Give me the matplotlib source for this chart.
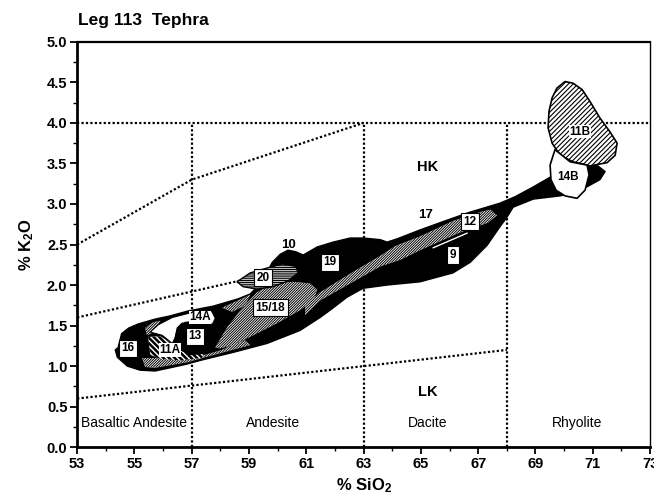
import matplotlib
matplotlib.use("Agg")
import matplotlib.pyplot as plt
from matplotlib.patches import Polygon
from matplotlib.ticker import MultipleLocator

plt.rcParams['font.family'] = ['Liberation Sans', 'DejaVu Sans']
plt.rcParams['mathtext.fontset'] = 'custom'
plt.rcParams['mathtext.rm'] = 'Liberation Sans:bold'
plt.rcParams['mathtext.bf'] = 'Liberation Sans:bold'
plt.rcParams['mathtext.it'] = 'Liberation Sans:bold'

# ---------------- data (SiO2 %, K2O %) ----------------
# classification boundaries
hk_line_x = [53, 57, 63]
hk_line_y = [2.5, 3.3, 4.0]
mk_line_x = [53, 63, 68]
mk_line_y = [1.6, 2.4, 2.8]
lk_line_x = [53, 68]
lk_line_y = [0.6, 1.2]
top_line_y = 4.0
rock_bounds = [57, 63, 68]

# outline of combined (black) field
env_x = [54.43, 54.55, 54.80, 55.13, 55.72, 56.25, 56.87, 57.75, 58.62, 59.04,
         59.46, 59.81, 60.09, 60.36, 60.64, 60.89, 61.38, 61.94, 62.53, 62.98,
         63.58, 63.82, 64.17, 64.97, 65.91, 66.72, 67.76, 68.29, 68.92, 69.51,
         70.38, 70.84, 71.18, 71.43, 71.25, 70.84, 70.40, 69.86, 68.92, 68.22,
         68.01, 67.76, 67.31, 66.72, 66.12, 64.97, 63.82, 62.98, 62.42, 61.83,
         61.48, 60.78, 59.63, 58.45, 57.29, 56.77, 56.25, 55.72, 55.20, 54.75,
         54.40, 54.33]
env_y = [1.23, 1.40, 1.47, 1.52, 1.58, 1.62, 1.68, 1.74, 1.83, 1.89,
         2.04, 2.28, 2.38, 2.43, 2.41, 2.37, 2.47, 2.53, 2.58, 2.58,
         2.56, 2.53, 2.57, 2.68, 2.80, 2.90, 3.01, 3.09, 3.21, 3.33,
         3.48, 3.48, 3.47, 3.40, 3.30, 3.22, 3.14, 3.10, 3.06, 2.96,
         2.84, 2.72, 2.49, 2.28, 2.15, 2.04, 2.00, 1.96, 1.85, 1.69,
         1.60, 1.44, 1.28, 1.17, 1.07, 1.02, 0.98, 0.94, 0.95, 1.00,
         1.11, 1.20]

# 15/18 field
f1518_x = [57.82, 58.24, 58.79, 59.28, 59.84, 60.54, 61.13, 61.38, 61.24, 60.78,
           59.98, 59.14, 58.45, 57.99]
f1518_y = [1.23, 1.48, 1.73, 1.91, 2.02, 2.04, 2.02, 1.94, 1.81, 1.69,
           1.53, 1.38, 1.26, 1.22]

# 12 field (hatched band)
f12_x = [60.96, 61.48, 62.53, 63.58, 64.27, 64.97, 66.37, 67.35, 67.66, 67.42,
         67.07, 66.12, 64.97, 64.10, 63.58, 62.53, 61.48, 60.96]
f12_y = [1.63, 1.81, 2.02, 2.23, 2.31, 2.43, 2.65, 2.77, 2.86, 2.93,
         2.90, 2.79, 2.60, 2.48, 2.36, 2.14, 1.91, 1.75]

# hatched fields of the basaltic-andesite lobe
fbase_x = [55.27, 55.37, 55.72, 56.87, 57.47, 58.41, 59.04, 58.86, 58.41, 58.06,
           57.47, 56.66, 55.72]
fbase_y = [1.10, 0.99, 0.98, 1.05, 1.11, 1.20, 1.26, 1.32, 1.26, 1.20,
           1.14, 1.07, 1.10]
fpatch_x = [55.37, 55.65, 55.90, 55.62, 55.44]
fpatch_y = [1.47, 1.54, 1.56, 1.41, 1.38]
ftop_x = [58.06, 58.62, 59.04, 58.86, 58.41]
ftop_y = [1.72, 1.81, 1.88, 1.75, 1.67]

# 14A field
f14a_x = [55.83, 56.32, 56.87, 57.47, 57.71, 57.82, 57.71, 57.36, 57.01, 56.66,
          56.49, 56.42, 56.32, 55.97, 55.55]
f14a_y = [1.51, 1.60, 1.65, 1.69, 1.67, 1.59, 1.51, 1.53, 1.54, 1.53,
          1.47, 1.35, 1.28, 1.38, 1.42]

# 13 field
f13_x = [56.49, 56.77, 57.29, 57.75, 57.92, 57.82, 57.47, 56.94, 56.53, 56.42]
f13_y = [1.44, 1.54, 1.56, 1.51, 1.38, 1.26, 1.16, 1.14, 1.22, 1.35]

# 11A field
f11a_x = [55.48, 55.90, 56.25, 56.53, 56.94, 57.47, 57.36, 56.60, 55.90, 55.55]
f11a_y = [1.36, 1.37, 1.29, 1.20, 1.15, 1.17, 1.10, 1.07, 1.09, 1.14]

# 20 field
f20_x = [58.58, 59.04, 59.63, 60.16, 60.64, 60.71, 60.36, 59.84, 59.28, 58.79]
f20_y = [2.04, 2.15, 2.21, 2.26, 2.23, 2.15, 2.05, 1.98, 1.95, 1.98]

# 11B field
f11b_x = [70.03, 69.75, 69.58, 69.47, 69.44, 69.58, 69.86, 70.31, 70.91, 71.50,
          71.78, 71.85, 71.60, 71.25, 70.91, 70.63, 70.31]
f11b_y = [4.51, 4.43, 4.31, 4.14, 3.94, 3.75, 3.60, 3.52, 3.47, 3.51,
          3.60, 3.75, 3.89, 4.06, 4.26, 4.41, 4.49]

# 14B field
f14b_x = [69.68, 69.51, 69.54, 69.72, 70.03, 70.45, 70.73, 70.87, 70.80, 70.21]
f14b_y = [3.67, 3.48, 3.30, 3.17, 3.10, 3.07, 3.17, 3.36, 3.48, 3.52]

# boundary of field 9
f9_line_x = [65.43, 66.61]
f9_line_y = [2.46, 2.64]

# field labels
boxed_labels = ['16', '13', '15/18', '20', '19', '12', '9']
boxed_x = [54.78, 57.12, 59.74, 59.49, 61.83, 66.72, 66.12]
boxed_y = [1.22, 1.37, 1.72, 2.09, 2.28, 2.78, 2.37]
plain_labels = ['10', '17', '14A', '11A', '11B', '14B']
plain_x = [60.36, 65.15, 57.29, 56.25, 70.56, 70.14]
plain_y = [2.49, 2.86, 1.60, 1.20, 3.89, 3.33]

zone_labels = ['Basaltic Andesite', 'Andesite', 'Dacite', 'Rhyolite']
zone_x = [55.0, 59.85, 65.25, 70.45]
zone_y = 0.30
k_labels = ['HK', 'LK']
k_x = [65.25, 65.25]
k_y = [3.46, 0.68]

xticks = [53, 55, 57, 59, 61, 63, 65, 67, 69, 71, 73]
yticks = [0.0, 0.5, 1.0, 1.5, 2.0, 2.5, 3.0, 3.5, 4.0, 4.5, 5.0]

# ---------------- figure ----------------
fig = plt.figure(figsize=(6.54, 4.98), dpi=100)
ax = fig.add_axes([0.118, 0.102, 0.876, 0.814])
ax.set_xlim(53, 73)
ax.set_ylim(0, 5)

dot = dict(color='black', linestyle=(0, (1, 1)), linewidth=1.6, zorder=1)
ax.plot(hk_line_x, hk_line_y, **dot)
ax.plot(mk_line_x, mk_line_y, **dot)
ax.plot(lk_line_x, lk_line_y, **dot)
ax.plot([53, 73], [top_line_y, top_line_y], **dot)
for b in rock_bounds:
    ax.plot([b, b], [0, top_line_y], **dot)


def poly(xs, ys, **kw):
    p = Polygon(list(zip(xs, ys)), closed=True, joinstyle='round', **kw)
    ax.add_patch(p)
    return p


poly(env_x, env_y, facecolor='black', edgecolor='black', linewidth=1, zorder=2)

fine = '/' * 13
plt.rcParams['hatch.linewidth'] = 0.7
for xs, ys in [(fbase_x, fbase_y), (fpatch_x, fpatch_y), (ftop_x, ftop_y),
               (f1518_x, f1518_y), (f12_x, f12_y)]:
    poly(xs, ys, facecolor='white', edgecolor='black', linewidth=0,
         hatch=fine, zorder=3)

poly(f14a_x, f14a_y, facecolor='white', edgecolor='black', linewidth=0.8, zorder=4)
plt.rcParams['hatch.linewidth'] = 1.8
poly(f11a_x, f11a_y, facecolor='white', edgecolor='black', linewidth=0,
     hatch='\\' * 6, zorder=5)
poly(f13_x, f13_y, facecolor='black', edgecolor='black', linewidth=0.8, zorder=5)

plt.rcParams['hatch.linewidth'] = 0.8
poly(f20_x, f20_y, facecolor='white', edgecolor='black', linewidth=1.0,
     hatch='-' * 9, zorder=6)
poly(f11b_x, f11b_y, facecolor='white', edgecolor='black', linewidth=1.2,
     hatch='/' * 7, zorder=6)
poly(f14b_x, f14b_y, facecolor='white', edgecolor='black', linewidth=1.2, zorder=6)
ax.plot(f9_line_x, f9_line_y, color='white', linewidth=1.0, zorder=6)

for t, x, y in zip(boxed_labels, boxed_x, boxed_y):
    ax.text(x, y, t, ha='center', va='center', fontsize=8.5, fontweight='bold',
            zorder=8, bbox=dict(boxstyle='square,pad=0.22', fc='white', ec='black', lw=0.8))
for t, x, y in zip(plain_labels, plain_x, plain_y):
    bb = None
    fs = 8.5
    if t in ('14A', '11A', '11B'):
        bb = dict(boxstyle='square,pad=0.05', fc='white', ec='none')
    if t in ('10', '17'):
        fs = 9.5
    ax.text(x, y, t, ha='center', va='center', fontsize=fs, fontweight='bold',
            zorder=8, bbox=bb)

for t, x in zip(zone_labels, zone_x):
    ax.text(x, zone_y, t, ha='center', va='center', fontsize=10, zorder=8)
for t, x, y in zip(k_labels, k_x, k_y):
    ax.text(x, y, t, ha='center', va='center', fontsize=10.5, fontweight='bold', zorder=8)

ax.set_xticks(xticks)
ax.set_yticks(yticks)
ax.xaxis.set_minor_locator(MultipleLocator(1))
ax.yaxis.set_minor_locator(MultipleLocator(0.25))
ax.set_xticklabels([str(v) for v in xticks], fontsize=10.5, fontweight='bold')
ax.set_yticklabels(['%.1f' % v for v in yticks], fontsize=10.5, fontweight='bold')
ax.tick_params(which='major', direction='out', length=5, width=1.3, pad=2)
ax.tick_params(which='minor', direction='out', length=3, width=1.0)
ax.tick_params(top=False, right=False, which='both')

ax.spines['left'].set_linewidth(2.0)
ax.spines['bottom'].set_linewidth(2.0)
ax.spines['top'].set_linewidth(1.6)
ax.spines['right'].set_linewidth(1.0)

ax.set_xlabel(r'% SiO$_{\mathbf{2}}$', fontsize=12, fontweight='bold', labelpad=4)
ax.set_ylabel(r'% K$_{\mathbf{2}}$O', fontsize=12, fontweight='bold', labelpad=8)
fig.text(0.119, 0.958, 'Leg 113  Tephra', fontsize=12.5, fontweight='bold',
         ha='left', va='center')

fig.savefig('out.png', dpi=100)
